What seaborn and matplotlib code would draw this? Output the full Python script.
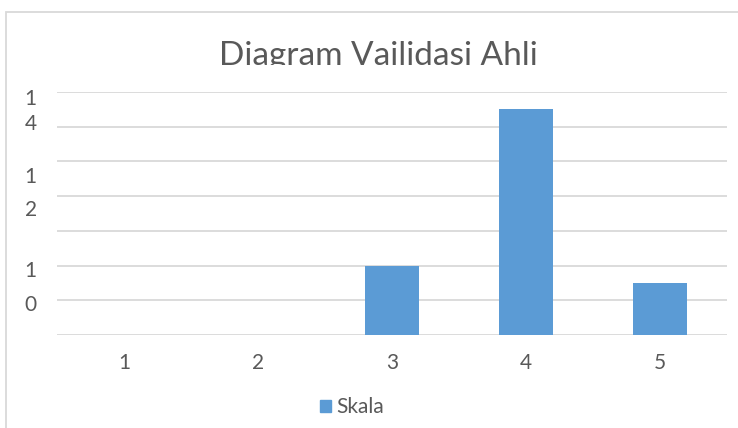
import seaborn as sns
import matplotlib.pyplot as plt
from matplotlib.patches import Rectangle, Patch
from matplotlib.transforms import Bbox

# data
skala = ["1", "2", "3", "4", "5"]
jumlah = [0, 0, 4, 13, 3]
y_labels = ["10", "12", "14"]
# Excel wrapped each label onto two lines; centre of each glyph, in data units
glyph_pos = [[3.80, 1.84], [9.22, 7.32], [13.71, 12.27]]
judul = "Diagram Vailidasi Ahli"
seri = "Skala"

W, H = 738, 428
sns.set_style("white")
plt.rcParams["font.family"] = ["Lato", "DejaVu Sans"]
grey = "#595959"
bar_color = "#5b9bd5"
fs = 15

fig = plt.figure(figsize=(W / 100, H / 100), dpi=100)

# chart frame (cut at right/bottom like the screenshot)
fig.patches.append(Rectangle((6 / W, -0.1), 2, 1 - 12 / H + 0.1, transform=fig.transFigure,
                             fill=False, edgecolor="#d9d9d9", lw=1.3, zorder=0))

ax = fig.add_axes([57 / W, 1 - 335 / H, 670 / W, (335 - 92) / H])
sns.barplot(x=skala, y=jumlah, color=bar_color, width=0.4, saturation=1,
            linewidth=0, ax=ax, zorder=3)
ax.set_ylim(0, 14)
ax.set_xlim(-0.5, 4.5)
ax.set_yticks(range(0, 15, 2))
ax.set_yticklabels([])

pos, chars = [], []
for lab, gp in zip(y_labels, glyph_pos):
    for c, p in zip(lab, gp):
        chars.append(c)
        pos.append(p)
ax.set_yticks(pos, minor=True)
ax.set_yticklabels(chars, minor=True)

ax.yaxis.grid(True, which="major", color="#d9d9d9", lw=1.3, zorder=0)
ax.set_axisbelow(True)
for s in ax.spines.values():
    s.set_visible(False)
ax.tick_params(axis="x", length=0, pad=13, labelsize=fs, labelcolor=grey)
ax.tick_params(axis="y", which="both", length=0, pad=19, labelsize=fs, labelcolor=grey)
for lab in ax.get_yticklabels(minor=True):
    lab.set_horizontalalignment("center")
ax.set_xlabel("")
ax.set_ylabel("")

t = fig.text(378 / W, 1 - 65 / H, judul, ha="center", va="baseline", fontsize=24, color=grey)
t.set_clip_box(Bbox([[0, H - 65], [W, H]]))
t.set_clip_on(True)

fig.legend(handles=[Patch(color=bar_color, label=seri)], loc="center",
           bbox_to_anchor=(352 / W, 1 - 407 / H), frameon=False, fontsize=fs,
           handlelength=0.5, handleheight=0.5, handletextpad=0.25, labelcolor=grey)

fig.savefig("out.png", dpi=100)
